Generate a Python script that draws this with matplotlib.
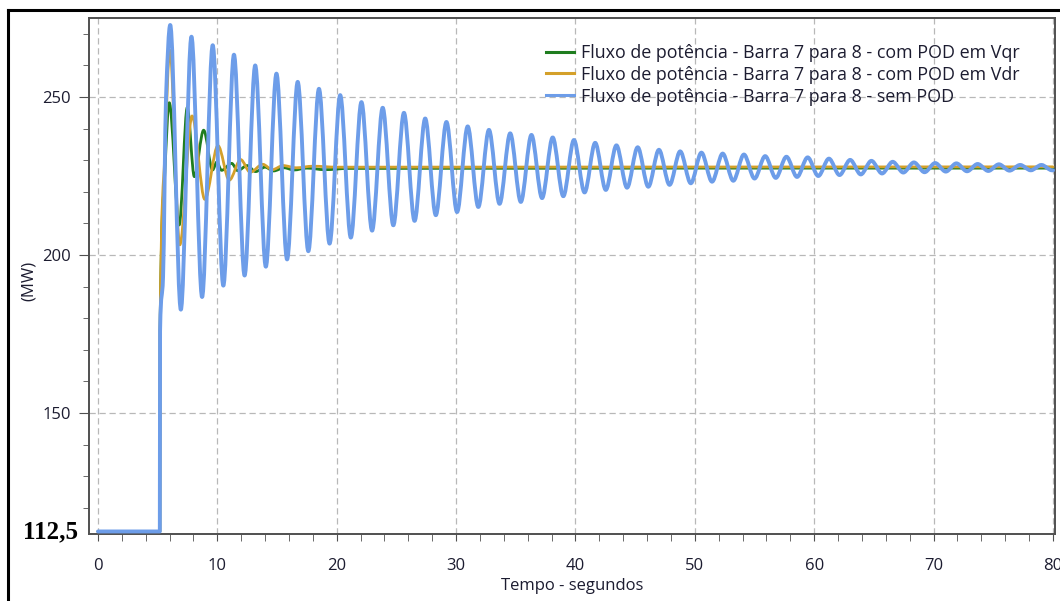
import numpy as np
import matplotlib.pyplot as plt
from matplotlib.path import Path
from matplotlib.patches import PathPatch
from matplotlib.lines import Line2D
from matplotlib.ticker import MultipleLocator

# values (time in s, power flow in MW)
# turning points of each curve, plus the step at t = 5 s
t_vqr = [0, 5.18, 5.20, 5.60, 5.97, 6.80, 7.48, 8.07, 8.85, 9.60, 9.95, 10.35,
         11.20, 11.70, 12.50, 13.20, 14.00, 14.70, 15.60, 16.40, 17.50, 19.00,
         21.00, 80.00]
p_vqr = [112.5, 112.5, 176.0, 226.0, 248.2, 209.5, 246.7, 224.8, 239.5, 226.9,
         229.4, 226.8, 229.0, 226.7, 228.3, 226.4, 227.8, 226.6, 227.6, 226.9,
         227.5, 227.0, 227.4, 227.5]

t_vdr = [0, 5.18, 5.20, 5.60, 6.02, 6.85, 7.88, 8.95, 10.05, 11.00, 11.95,
         12.75, 13.80, 14.60, 15.50, 16.60, 18.00, 20.00, 80.00]
p_vdr = [112.5, 112.5, 176.0, 232.0, 264.8, 203.2, 244.0, 217.6, 234.6, 223.7,
         230.2, 226.2, 228.7, 227.0, 228.3, 227.6, 228.1, 227.8, 227.9]

t_sem = [0, 5.18, 5.20, 5.45, 5.70,
         6.05, 6.94, 7.83, 8.72, 9.61, 10.50, 11.39, 12.28, 13.17, 14.06,
         14.95, 15.84, 16.73, 17.62, 18.51, 19.40, 20.29, 21.18, 22.07, 22.96,
         23.85, 24.74, 25.63, 26.52, 27.41, 28.30, 29.19, 30.08, 30.97, 31.86,
         32.75, 33.64, 34.53, 35.42, 36.31, 37.20, 38.09, 38.98, 39.87, 40.76,
         41.65, 42.54, 43.43, 44.32, 45.21, 46.10, 46.99, 47.88, 48.77, 49.66,
         50.55, 51.44, 52.33, 53.22, 54.11, 55.00, 55.89, 56.78, 57.67, 58.56,
         59.45, 60.34, 61.23, 62.12, 63.01, 63.90, 64.79, 65.68, 66.57, 67.46,
         68.35, 69.24, 70.13, 71.02, 71.91, 72.80, 73.69, 74.58, 75.47, 76.36,
         77.25, 78.14, 79.03, 79.92, 80.00]
p_sem = [112.5, 112.5, 176.0, 193.0, 250.0,
         272.8, 182.7, 269.1, 186.7, 266.4, 190.3, 263.4, 193.5, 260.0, 196.3,
         257.4, 198.6, 254.8, 201.2, 252.6, 203.6, 250.6, 205.5, 248.4, 207.7,
         246.6, 209.4, 245.0, 210.8, 243.2, 212.6, 242.1, 213.6, 240.7, 215.2,
         239.6, 216.2, 238.5, 216.8, 238.0, 218.0, 237.2, 218.6, 236.4, 219.8,
         235.5, 220.6, 234.7, 221.3, 234.1, 221.6, 233.3, 222.2, 232.8, 222.7,
         232.4, 223.2, 232.1, 223.5, 231.8, 224.2, 231.3, 224.4, 231.1, 224.7,
         230.9, 225.0, 230.5, 225.3, 230.1, 225.5, 229.8, 225.8, 229.5, 226.1,
         229.3, 226.2, 229.1, 226.4, 229.0, 226.5, 228.8, 226.6, 228.7, 226.7,
         228.5, 226.8, 228.5, 226.8, 226.8]

labels = ['Fluxo de potência - Barra 7 para 8 - com POD em Vqr',
          'Fluxo de potência - Barra 7 para 8 - com POD em Vdr',
          'Fluxo de potência - Barra 7 para 8 - sem POD']
colors = ['#1f7d1f', '#d4a02a', '#6d9de9']
widths = [2.0, 2.0, 2.8]


def slopes(x, y):
    # monotone (pchip style) tangents, flat at every turning point
    h = np.diff(x)
    d = np.diff(y) / h
    m = np.zeros(len(x))
    for k in range(1, len(x) - 1):
        if d[k - 1] * d[k] > 0:
            w1 = 2 * h[k] + h[k - 1]
            w2 = h[k] + 2 * h[k - 1]
            m[k] = (w1 + w2) / (w1 / d[k - 1] + w2 / d[k])
    return m


def curve_path(x, y):
    x = np.asarray(x, float)
    y = np.asarray(y, float)
    m = slopes(x, y)
    verts = [(x[0], y[0])]
    codes = [Path.MOVETO]
    for k in range(len(x) - 1):
        h = x[k + 1] - x[k]
        verts += [(x[k] + h / 3, y[k] + m[k] * h / 3),
                  (x[k + 1] - h / 3, y[k + 1] - m[k + 1] * h / 3),
                  (x[k + 1], y[k + 1])]
        codes += [Path.CURVE4] * 3
    return Path(verts, codes)


plt.rcParams['font.family'] = ['Open Sans', 'DejaVu Sans']
txt = '#1c1c30'

fig = plt.figure(figsize=(10.6, 6.01), dpi=100)
ax = fig.add_axes([0.084, 0.1115, 0.9113, 0.8585])

series = [(t_vqr, p_vqr), (t_vdr, p_vdr), (t_sem, p_sem)]
handles = []
for (t, p), c, w, lab in zip(series, colors, widths, labels):
    ax.add_patch(PathPatch(curve_path(t, p), fill=False, edgecolor=c, lw=w,
                           joinstyle='round', capstyle='round', zorder=3))
    handles.append(Line2D([], [], color=c, lw=2.2, label=lab))

ax.set_xlim(-0.75, 80.17)
ax.set_ylim(111.7, 275.0)

ax.xaxis.set_major_locator(MultipleLocator(10))
ax.xaxis.set_minor_locator(MultipleLocator(2))
ax.set_yticks([150, 200, 250])
ax.yaxis.set_minor_locator(MultipleLocator(10))

ax.grid(which='major', linestyle=(0, (5, 3)), color='#b8b8b8', lw=0.9)
for s in ax.spines.values():
    s.set_color('#505050')
    s.set_linewidth(1.4)
ax.tick_params(axis='both', which='both', color='#505050', labelcolor=txt,
               labelsize=12)
ax.tick_params(axis='y', which='major', length=7, pad=6)
ax.tick_params(axis='y', which='minor', length=4)
ax.tick_params(axis='x', which='both', length=5, pad=12)

ax.set_xlabel('Tempo - segundos', fontsize=12, color=txt, labelpad=3)
ax.set_ylabel('(MW)', fontsize=12, color=txt)
ax.yaxis.set_label_coords(-0.054, 0.49)

ax.text(-0.011, 112.5, '112,5', transform=ax.get_yaxis_transform(),
        ha='right', va='center', fontsize=18, fontweight='bold',
        family='Liberation Serif', color='black')

ax.legend(handles=handles, loc='upper left', bbox_to_anchor=(0.466, 0.964),
          frameon=False, fontsize=12.9, handlelength=1.55, handletextpad=0.4,
          labelspacing=0.22, labelcolor=txt, borderaxespad=0)

# black frame around the picture (left and top edges are visible)
fig.add_artist(Line2D([0.0075, 0.0075], [0, 0.9834], transform=fig.transFigure,
                      color='black', lw=2.2))
fig.add_artist(Line2D([0.0075, 1.0], [0.9834, 0.9834], transform=fig.transFigure,
                      color='black', lw=2.2))

fig.savefig('out.png', dpi=100, facecolor='white')
